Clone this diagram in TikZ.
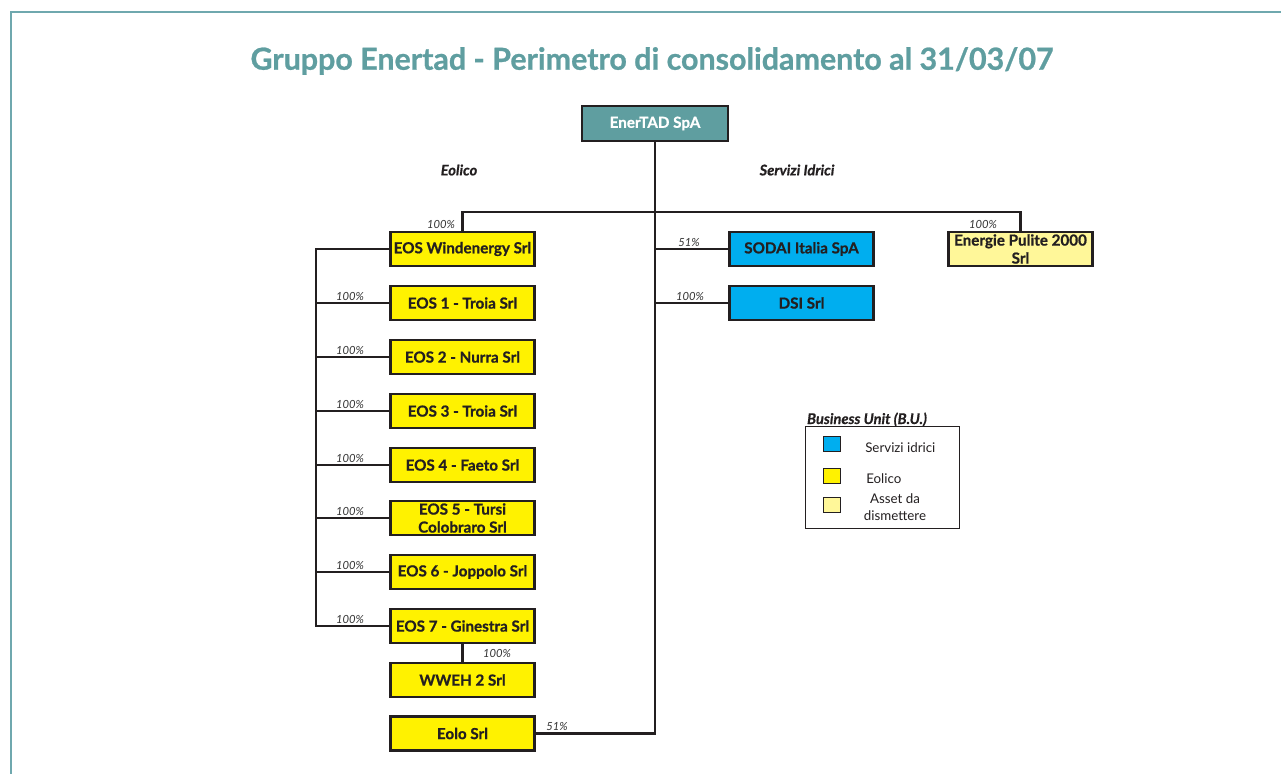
\documentclass[tikz,border=0pt]{standalone}
\usepackage{fontspec}
\setmainfont{Lato}[BoldFeatures={FakeBold=0.8},BoldItalicFeatures={FakeBold=0.5}]
\definecolor{teal1}{HTML}{5F9EA0}
\definecolor{frame}{HTML}{6FA8AE}
\definecolor{bluef}{HTML}{00AEEF}
\definecolor{yel}{HTML}{FFF200}
\definecolor{lyel}{HTML}{FFF799}
\definecolor{ink}{HTML}{231F20}
\definecolor{pct}{HTML}{333333}
\begin{document}
\begin{tikzpicture}[x=0.75pt,y=-0.75pt,
  box/.style={draw=ink,line width=2pt,minimum width=108pt,minimum height=25.5pt,inner sep=1pt,align=center,font=\bfseries\fontsize{11.4}{13.5}\selectfont,text=ink},
  eol/.style={box,fill=yel},
  acq/.style={box,fill=bluef},
  ast/.style={box,fill=lyel},
  conn/.style={draw=ink,line width=1.7pt},
  pc/.style={font=\itshape\fontsize{8.4}{9}\selectfont,text=pct,inner sep=0pt},
  sect/.style={font=\bfseries\itshape\fontsize{11}{12}\selectfont,text=ink,inner sep=0pt},
  sw/.style={draw=ink,line width=0.8pt,minimum width=13pt,minimum height=11.5pt,inner sep=0pt},
  leg/.style={font=\fontsize{10}{12.5}\selectfont,text=ink,align=center,inner sep=0pt}]
\useasboundingbox (0,0) rectangle (1281,774);
\fill[white] (0,0) rectangle (1281,774);
% frame
\draw[frame,line width=1.5pt] (10.5,774) -- (10.5,12.5) -- (1281,12.5);
% title
\node[font=\bfseries\fontsize{22.8}{24}\selectfont,text=teal1] (title) at (652,61) {Gruppo Enertad - Perimetro di consolidamento al 31/03/07};
% top node
\node[box,fill=teal1,text=white,minimum width=109.5pt,minimum height=26.25pt] (ener) at (655,123.5) {EnerTAD SpA};
\node[sect] (seol) at (459,170) {Eolico};
\node[sect] (sser) at (797,170) {Servizi Idrici};
% eolico column
\node[eol] (eosw) at (462.5,249) {EOS Windenergy Srl};
\node[eol] (eos1) at (462.5,303) {EOS 1 - Troia Srl};
\node[eol] (eos2) at (462.5,357) {EOS 2 - Nurra Srl};
\node[eol] (eos3) at (462.5,411) {EOS 3 - Troia Srl};
\node[eol] (eos4) at (462.5,465) {EOS 4 - Faeto Srl};
\node[eol] (eos5) at (462.5,518) {EOS 5 - Tursi\\Colobraro Srl};
\node[eol] (eos6) at (462.5,572) {EOS 6 - Joppolo Srl};
\node[eol] (eos7) at (462.5,626) {EOS 7 - Ginestra Srl};
\node[eol] (wweh) at (462.5,680) {WWEH 2 Srl};
\node[eol] (eolo) at (462.5,733.5) {Eolo Srl};
% water
\node[acq] (sodai) at (801.5,249) {SODAI Italia SpA};
\node[acq] (dsi) at (801.5,303) {DSI Srl};
\node[ast] (ep) at (1020.5,249) {Energie Pulite 2000\\Srl};
% connectors
\coordinate (bus) at (655,212);
\coordinate (spine) at (316,0);
\draw[conn] (ener.south) |- (eolo.east);
\draw[conn] (eosw.north) -- (eosw.north |- bus) -- (ep.north |- bus) -- (ep.north);
\draw[conn] (ener.south |- sodai.west) -- (sodai.west);
\draw[conn] (ener.south |- dsi.west) -- (dsi.west);
\draw[conn] (eosw.west) -- (spine |- eosw.west) -- (spine |- eos7.west) -- (eos7.west);
\foreach \n in {eos1,eos2,eos3,eos4,eos5,eos6}{\draw[conn] (spine |- \n.west) -- (\n.west);}
\draw[conn] (eos7.south) -- (wweh.north);
% percentages
\node[pc] (p0) at (441,224) {100\%};
\node[pc] (p1) at (350,296) {100\%};
\node[pc] (p2) at (350,350) {100\%};
\node[pc] (p3) at (350,404) {100\%};
\node[pc] (p4) at (350,458) {100\%};
\node[pc] (p5) at (350,511) {100\%};
\node[pc] (p6) at (350,565) {100\%};
\node[pc] (p7) at (350,619) {100\%};
\node[pc] (p8) at (497,653) {100\%};
\node[pc] (p9) at (557,726) {51\%};
\node[pc] (p10) at (689,242) {51\%};
\node[pc] (p11) at (690,296) {100\%};
\node[pc] (p12) at (983,224) {100\%};
% legend
\node[draw=ink,line width=0.8pt,minimum width=116pt,minimum height=77pt,inner sep=0pt] (legbox) at (882.5,477.5) {};
\node[sect,anchor=base] (legt) at (867,424) {Business Unit (B.U.)};
\node[sw,fill=bluef] (sw1) at (832,444) {};
\node[sw,fill=yel] (sw2) at (832,476) {};
\node[sw,fill=lyel] (sw3) at (832,505) {};
\node[leg,anchor=west] (l1) at (865,448) {Servizi idrici};
\node[leg,anchor=west] (l2) at (866,479) {Eolico};
\node[leg] (l3) at (895,507) {Asset da\\dismettere};
\end{tikzpicture}
\end{document}
